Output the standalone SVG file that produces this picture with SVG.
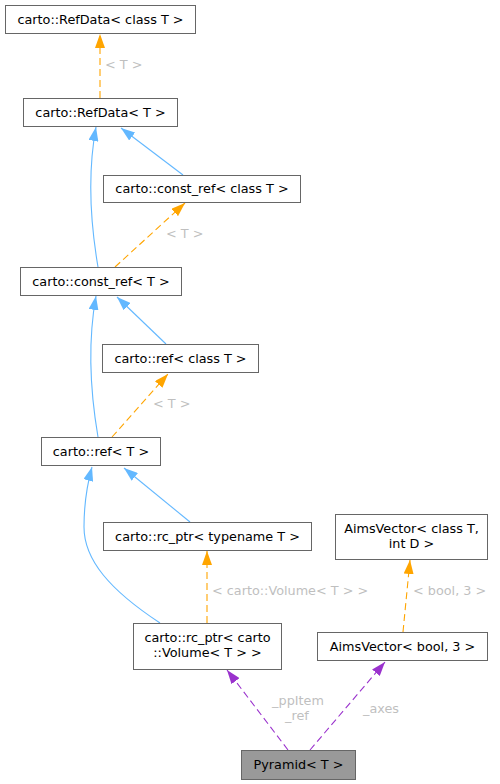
<svg xmlns="http://www.w3.org/2000/svg" width="500" height="784" viewBox="0 0 500 784">
<style>
.box{fill:#ffffff;stroke:#666666;stroke-width:1}
.sel{fill:#999999;stroke:#666666;stroke-width:1}
.t{font-family:"DejaVu Sans",sans-serif;font-size:12.8px;fill:#000000;text-anchor:middle}
.lbl{font-family:"DejaVu Sans",sans-serif;font-size:12.8px;fill:#bfbfbf}
.blue{fill:none;stroke:#63b8ff;stroke-width:1.1;marker-end:url(#ab)}
.orange{fill:none;stroke:#ffa500;stroke-width:1.1;stroke-dasharray:7,4;marker-end:url(#ao)}
.purple{fill:none;stroke:#9a32cd;stroke-width:1.1;stroke-dasharray:7,4;marker-end:url(#ap)}
</style>
<defs>
<marker id="ab" viewBox="0 0 14 10" refX="14" refY="5" markerWidth="14" markerHeight="10" markerUnits="userSpaceOnUse" orient="auto"><path d="M0,0 L14,5 L0,10 z" fill="#63b8ff"/></marker>
<marker id="ao" viewBox="0 0 14 10" refX="14" refY="5" markerWidth="14" markerHeight="10" markerUnits="userSpaceOnUse" orient="auto"><path d="M0,0 L14,5 L0,10 z" fill="#ffa500"/></marker>
<marker id="ap" viewBox="0 0 14 10" refX="14" refY="5" markerWidth="14" markerHeight="10" markerUnits="userSpaceOnUse" orient="auto"><path d="M0,0 L14,5 L0,10 z" fill="#9a32cd"/></marker>
</defs>
<rect width="500" height="784" fill="#ffffff"/>
<g id="edges">
<path class="orange" d="M100,98 L100,34"/>
<text class="lbl" x="105" y="69">&lt; T &gt;</text>
<path class="blue" d="M98,267 C90,220 88,170 96,127"/>
<path class="blue" d="M183,175 L121,128"/>
<path class="orange" d="M115,267 L185,203"/>
<text class="lbl" x="166" y="238">&lt; T &gt;</text>
<path class="blue" d="M98,437 C90,390 88,340 96,296"/>
<path class="blue" d="M166,344 L117,297"/>
<path class="orange" d="M112,437 L168,374"/>
<text class="lbl" x="153" y="408">&lt; T &gt;</text>
<path class="blue" d="M160,623 C110,590 84,560 84,527 C84,505 87,485 92,467"/>
<path class="blue" d="M190,522 L124,468"/>
<path class="orange" d="M207,623 L207,551"/>
<text class="lbl" x="212" y="595">&lt; carto::Volume&lt; T &gt; &gt;</text>
<path class="orange" d="M403,632 L410,560"/>
<text class="lbl" x="413" y="595">&lt; bool, 3 &gt;</text>
<path class="purple" d="M288,750 L227,670"/>
<text class="lbl" x="298" y="705" text-anchor="middle">_ppItem</text>
<text class="lbl" x="297" y="720" text-anchor="middle">_ref</text>
<path class="purple" d="M310,750 L385,662"/>
<text class="lbl" x="363" y="713">_axes</text>
</g>
<g id="n1"><rect class="box" x="5.5" y="5.5" width="190" height="28"/><text class="t" x="100.5" y="23.5">carto::RefData&lt; class T &gt;</text></g>
<g id="n2"><rect class="box" x="23.5" y="98.5" width="154" height="28"/><text class="t" x="100.5" y="116.5">carto::RefData&lt; T &gt;</text></g>
<g id="n3"><rect class="box" x="103.5" y="175.5" width="197" height="27"/><text class="t" x="202" y="193">carto::const_ref&lt; class T &gt;</text></g>
<g id="n4"><rect class="box" x="20.5" y="267.5" width="161" height="28"/><text class="t" x="101" y="285.5">carto::const_ref&lt; T &gt;</text></g>
<g id="n5"><rect class="box" x="102.5" y="344.5" width="156" height="28"/><text class="t" x="180.5" y="362.5">carto::ref&lt; class T &gt;</text></g>
<g id="n6"><rect class="box" x="41.5" y="437.5" width="119" height="28"/><text class="t" x="101" y="455.5">carto::ref&lt; T &gt;</text></g>
<g id="n7"><rect class="box" x="103.5" y="522.5" width="208" height="28"/><text class="t" x="207.5" y="540.5">carto::rc_ptr&lt; typename T &gt;</text></g>
<g id="n8"><rect class="box" x="335.5" y="514.5" width="152" height="45"/><text class="t" x="411.5" y="533">AimsVector&lt; class T,</text><text class="t" x="411.5" y="548">int D &gt;</text></g>
<g id="n9"><rect class="box" x="133.5" y="623.5" width="148" height="46"/><text class="t" x="207.5" y="642">carto::rc_ptr&lt; carto</text><text class="t" x="207.5" y="657">::Volume&lt; T &gt; &gt;</text></g>
<g id="n10"><rect class="box" x="317.5" y="632.5" width="170" height="28"/><text class="t" x="402.5" y="650.5">AimsVector&lt; bool, 3 &gt;</text></g>
<g id="n11"><rect class="sel" x="241.5" y="750.5" width="114" height="29"/><text class="t" x="298.5" y="769">Pyramid&lt; T &gt;</text></g>
</svg>
